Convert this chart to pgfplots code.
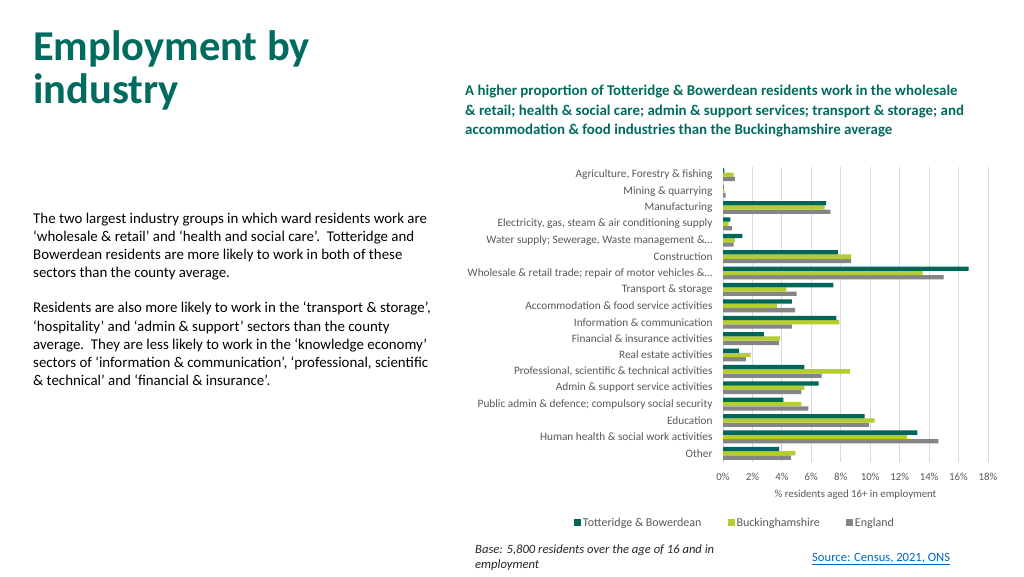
\documentclass[border=0pt]{standalone}
\usepackage{pgfplots}
\pgfplotsset{compat=1.18}
\usepackage{pgfplotstable}
\usepackage{fontspec}
\setmainfont{Carlito}
\definecolor{teal1}{HTML}{006B5E}
\definecolor{tealbar}{HTML}{00665A}
\definecolor{lime}{HTML}{B5CD2F}
\definecolor{greybar}{HTML}{858585}
\definecolor{labgrey}{HTML}{595959}
\definecolor{gridc}{HTML}{D9D9D9}
\definecolor{linkc}{HTML}{0563C1}

% pos: 17 = top row (Agriculture), 0 = bottom row (Other)
\pgfplotstableread{
pos T B E
17 0.10 0.72 0.81
16 0.05 0.10 0.18
15 7.00 6.90 7.30
14 0.50 0.38 0.60
13 1.31 0.81 0.72
12 7.80 8.70 8.70
11 16.68 13.56 14.98
10 7.50 4.30 5.00
9 4.68 3.66 4.90
8 7.70 7.90 4.68
7 2.78 3.86 3.80
6 1.07 1.88 1.56
5 5.52 8.62 6.70
4 6.49 5.52 5.32
3 4.10 5.32 5.79
2 9.62 10.29 9.91
1 13.21 12.51 14.62
0 3.82 4.91 4.62
}\datatable

\begin{document}
\begin{tikzpicture}[x=1pt,y=1pt]
\path[fill=white] (0,0) rectangle (1024,-576);
% title
\node[anchor=base west,inner sep=0,text=teal1,font=\fontsize{42.5}{46}\selectfont\bfseries] at (33,-60) {Employment by};
\node[anchor=base west,inner sep=0,text=teal1,font=\fontsize{42.5}{46}\selectfont\bfseries] at (33,-103) {industry};
% subtitle
\begin{scope}[every node/.style={anchor=base west,inner sep=0,text=teal1,font=\fontsize{14.9}{17}\selectfont\bfseries}]
\node at (465,-95) {A higher proportion of Totteridge \& Bowerdean residents work in the wholesale};
\node at (465,-115) {\& retail; health \& social care; admin \& support services; transport \& storage; and};
\node at (465,-134) {accommodation \& food industries than the Buckinghamshire average};
\end{scope}
% body text
\begin{scope}[every node/.style={anchor=base west,inner sep=0,text=black,font=\fontsize{14.9}{17}\selectfont}]
\node at (33,-223) {The two largest industry groups in which ward residents work are};
\node at (33,-241) {‘wholesale \& retail’ and ‘health and social care’.\ \ Totteridge and};
\node at (33,-259) {Bowerdean residents are more likely to work in both of these};
\node at (33,-277) {sectors than the county average.};
\node at (33,-312) {Residents are also more likely to work in the ‘transport \& storage’,};
\node at (33,-331) {‘hospitality’ and ‘admin \& support’ sectors than the county};
\node at (33,-349) {average.\ \ They are less likely to work in the ‘knowledge economy’};
\node at (33,-367) {sectors of ‘information \& communication’, ‘professional, scientific};
\node at (33,-385) {\& technical’ and ‘financial \& insurance’.};
\end{scope}
% footer
\node[anchor=base west,inner sep=0,text=black!85,font=\fontsize{12.6}{14}\selectfont\itshape] at (475,-553) {Base: 5,800 residents over the age of 16 and in};
\node[anchor=base west,inner sep=0,text=black!85,font=\fontsize{12.6}{14}\selectfont\itshape] at (475,-568) {employment};
\node[anchor=base west,inner sep=0,text=linkc,font=\fontsize{12.6}{14}\selectfont] at (812,-561) {\underline{Source: Census, 2021, ONS}};

\begin{axis}[
  at={(723pt,-461.5pt)}, anchor=south west,
  scale only axis, width=265pt, height=295pt,
  xbar, bar width=4.3pt,
  xmin=0, xmax=18, ymin=-0.5, ymax=17.5,
  axis line style={draw=none},
  major tick length=0pt,
  xtick={0,2,...,18},
  xmajorgrids, grid style={gridc, line width=0.8pt},
  /pgf/number format/assume math mode=true,
  xticklabel={\pgfmathprintnumber{\tick}\%},
  xticklabel style={font=\fontsize{10.8}{12}\selectfont, text=labgrey, yshift=-8pt},
  xlabel={\% residents aged 16+ in employment},
  xlabel style={font=\fontsize{10.8}{12}\selectfont, text=labgrey, yshift=-3pt},
  ytick={0,...,17},
  yticklabels={Other, Human health \& social work activities, Education, Public admin \& defence; compulsory social security, Admin \& support service activities, Professional{,} scientific \& technical activities, Real estate activities, Financial \& insurance activities, Information \& communication, Accommodation \& food service activities, Transport \& storage, Wholesale \& retail trade; repair of motor vehicles \&…, Construction, Water supply; Sewerage{,} Waste management \&…, Electricity{,} gas{,} steam \& air conditioning supply, Manufacturing, Mining \& quarrying, Agriculture{,} Forestry \& fishing},
  yticklabel style={font=\fontsize{11.3}{12}\selectfont, text=labgrey, xshift=-7pt},
  reverse legend,
  legend style={at={(0.045,-0.208)}, anchor=center, draw=none, fill=none, legend columns=3,
     font=\fontsize{12}{13}\selectfont, text=labgrey,
     /tikz/every even column/.append style={column sep=24pt}},
  legend image code/.code={\fill[#1] (0pt,-3.5pt) rectangle (7pt,3.5pt);},
]
\addplot[fill=greybar, draw=none, bar shift=-4.3pt] table[x=E, y=pos] {\datatable};
\addplot[fill=lime, draw=none, bar shift=0pt] table[x=B, y=pos] {\datatable};
\addplot[fill=tealbar, draw=none, bar shift=4.3pt] table[x=T, y=pos] {\datatable};
\legend{England, Buckinghamshire, Totteridge \& Bowerdean}
\end{axis}
\end{tikzpicture}
\end{document}
